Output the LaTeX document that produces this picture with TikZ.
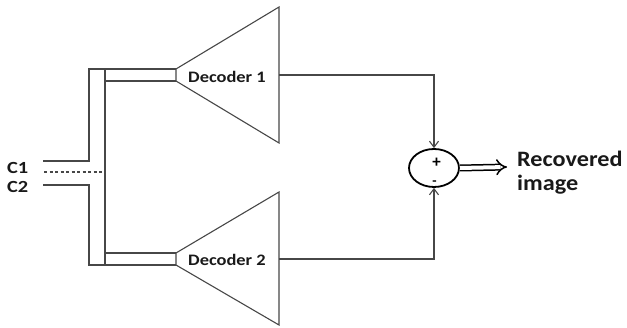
\documentclass[tikz,border=0pt]{standalone}
\usepackage{fontspec}
\setmainfont{Carlito}
\usetikzlibrary{arrows.meta,shapes.geometric}
\tikzset{
  wire/.style={draw=black!72, line width=1.1pt},
  lbl/.style={inner sep=0pt, font=\bfseries, text=black!90},
  sumarrow/.style={wire, -{Straight Barb[length=6pt,width=9pt,line width=1.1pt]}},
}
\begin{document}
\begin{tikzpicture}[x=1pt,y=-1pt]
\useasboundingbox (0,0) rectangle (627,328);
% decoder triangles
\draw[wire] (176,69) -- (279,7) -- (279,143) -- (176,81) -- cycle;
\draw[wire] (176,253) -- (279,192) -- (279,325) -- (176,265) -- cycle;
\coordinate (d1out) at (279,75);
\coordinate (d2out) at (279,259);
% bus
\draw[wire] (43,161) -- (89,161) -- (89,69) -- (176,69);
\draw[wire] (105,81) -- (176,81);
\draw[wire] (105,69) -- (105,265);
\draw[wire] (43,185) -- (89,185) -- (89,265) -- (176,265);
\draw[wire] (105,253) -- (176,253);
\draw[wire, dashed, dash pattern=on 3pt off 2.5pt] (44,172) -- (105,172);
% labels
\node[lbl, anchor=base, font=\fontsize{16}{16}\bfseries] (dec1) at (227,82.5) {\scalebox{1.15}[1]{Decoder 1}};
\node[lbl, anchor=base, font=\fontsize{16}{16}\bfseries] (dec2) at (227,265.5) {\scalebox{1.15}[1]{Decoder 2}};
\node[lbl, anchor=base west, font=\fontsize{17}{17}\bfseries] (c1) at (7,174) {\scalebox{1.2}[1]{C1}};
\node[lbl, anchor=base west, font=\fontsize{17}{17}\bfseries] (c2) at (7,193) {\scalebox{1.2}[1]{C2}};
\node[lbl, anchor=base west, font=\fontsize{22}{22}\bfseries] (rec) at (517,167) {\scalebox{1.1}[1]{Recovered}};
\node[lbl, anchor=base west, font=\fontsize{22}{22}\bfseries] (img) at (517,191) {\scalebox{1.1}[1]{image}};
% summing junction
\node[draw=black, line width=1.8pt, ellipse, minimum width=50pt, minimum height=38pt, inner sep=0pt] (sum) at (434,168) {};
\node[lbl, text=black, anchor=base, font=\fontsize{17}{17}\bfseries] (plus) at (436.5,168) {+};
\node[lbl, text=black, anchor=base, font=\fontsize{14}{14}\bfseries] (minus) at (434.5,186) {-};
\draw[sumarrow] (d1out) -| (sum.north);
\draw[sumarrow] (d2out) -| (sum.south);
\coordinate (outend) at (507,167);
\draw[draw=black, line width=1.5pt, double=white, double distance=4pt, -{Implies[length=7pt]}] (sum.east) -- (outend);
\end{tikzpicture}
\end{document}
